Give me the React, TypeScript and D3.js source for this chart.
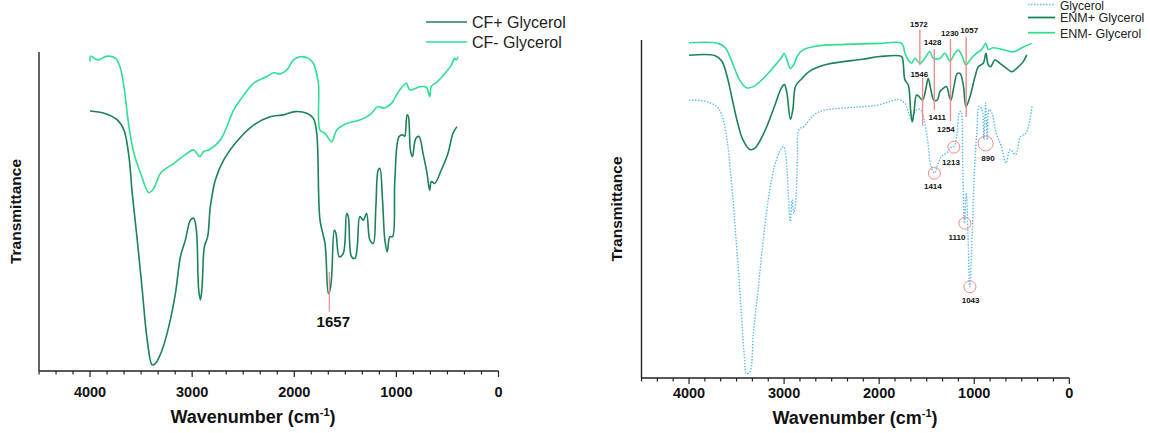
import React from "react";
import * as d3 from "d3";

// ---------- DATA (wavenumber cm-1, transmittance a.u.) ----------
const cfPlusGlycerol: [number, number][] = [
  [4000, 81.5], [3863, 80.8], [3733, 78.7], [3668, 75.5], [3619, 67.2], [3587, 55.7],
  [3538, 41.1], [3489, 25.4], [3440, 9.7], [3391, 1.9], [3359, 2.4], [3294, 6.6],
  [3229, 13.9], [3164, 24.3], [3115, 35.8], [3066, 41.1], [3017, 47.3], [2985, 47.9],
  [2959, 44.2], [2936, 25.4], [2919, 22.3], [2903, 26.4], [2880, 39.0], [2848, 42.1],
  [2822, 51.5], [2773, 59.9], [2692, 66.1], [2578, 71.4], [2399, 77.1], [2236, 79.7],
  [2106, 80.3], [1992, 81.3], [1878, 80.8], [1813, 79.2], [1780, 74.5], [1748, 47.3],
  [1699, 40.0], [1666, 24.3], [1650, 25.4], [1634, 29.6], [1608, 44.2], [1592, 43.1],
  [1559, 35.8], [1520, 36.9], [1487, 49.4], [1471, 48.4], [1439, 35.8], [1406, 35.3],
  [1383, 39.0], [1357, 48.4], [1325, 47.3], [1292, 49.4], [1260, 41.1], [1227, 40.0],
  [1201, 51.5], [1178, 63.0], [1162, 63.5], [1136, 53.6], [1113, 41.1], [1090, 37.4],
  [1064, 42.1], [1038, 42.1], [1015, 59.9], [973, 73.5], [934, 74.0], [918, 73.5],
  [895, 80.3], [882, 79.7], [863, 69.3], [843, 67.2], [810, 72.9], [778, 73.5],
  [739, 68.2], [700, 62.0], [674, 56.7], [657, 59.4], [625, 58.8], [560, 63.0],
  [495, 68.2], [446, 74.5], [407, 76.6],
];

const cfMinusGlycerol: [number, number][] = [
  [4000, 97.0], [3995, 98.7], [3928, 97.5], [3831, 98.7], [3750, 98.0], [3707, 95.4],
  [3668, 89.1], [3619, 76.6], [3570, 68.2], [3505, 62.0], [3424, 55.9], [3375, 57.3],
  [3310, 62.0], [3180, 65.1], [3050, 68.2], [2985, 69.3], [2926, 67.2], [2887, 68.8],
  [2838, 69.3], [2724, 72.4], [2594, 81.8], [2529, 85.0], [2399, 90.2], [2268, 92.3],
  [2203, 93.5], [2138, 93.1], [2073, 94.4], [2008, 97.5], [1943, 98.5], [1862, 98.0],
  [1813, 96.4], [1764, 90.2], [1748, 75.5], [1699, 74.5], [1634, 71.9], [1585, 75.5],
  [1487, 77.6], [1357, 78.7], [1260, 80.3], [1178, 82.9], [1129, 82.4], [1048, 83.9],
  [999, 86.5], [967, 88.1], [902, 90.2], [869, 88.1], [771, 89.1], [706, 88.9],
  [674, 86.0], [657, 89.3], [609, 90.4], [511, 93.8], [462, 95.9], [430, 98.0],
  [413, 97.5], [397, 98.5],
];

const glycerol: [number, number][] = [
  [4000, 82.2], [3841, 81.9], [3711, 80.4], [3656, 77.9], [3600, 70.5], [3563, 60.6],
  [3526, 48.8], [3489, 34.9], [3452, 20.1], [3415, 5.2], [3397, 1.3], [3360, 1.8],
  [3323, 13.2], [3267, 28.0], [3212, 42.8], [3156, 54.7], [3101, 62.6], [3045, 67.1],
  [3008, 68.5], [2982, 65.6], [2953, 52.7], [2934, 46.3], [2916, 52.7], [2897, 48.8],
  [2879, 51.7], [2860, 64.6], [2842, 73.5], [2786, 74.5], [2731, 76.5], [2657, 78.4],
  [2546, 79.4], [2361, 79.9], [2213, 80.2], [2102, 80.4], [1991, 80.9], [1880, 81.9],
  [1806, 82.4], [1732, 81.4], [1695, 78.9], [1665, 76.5], [1639, 77.9], [1602, 79.4],
  [1565, 79.4], [1528, 76.5], [1491, 70.5], [1454, 62.6], [1417, 60.6], [1391, 62.6],
  [1343, 65.6], [1288, 66.6], [1251, 68.1], [1214, 68.5], [1184, 71.5], [1158, 78.4],
  [1140, 78.9], [1121, 62.6], [1103, 45.8], [1084, 54.7], [1066, 42.8], [1047, 27.0],
  [1021, 42.8], [999, 60.6], [973, 72.5], [947, 80.4], [918, 79.4], [899, 70.5],
  [881, 81.4], [862, 70.5], [844, 79.4], [814, 78.4], [770, 72.5], [714, 68.5],
  [666, 63.6], [622, 67.6], [566, 66.1], [511, 71.5], [455, 72.5], [392, 80.4],
];

const enmPlusGlycerol: [number, number][] = [
  [4000, 95.5], [3730, 95.4], [3656, 93.8], [3600, 89.3], [3545, 82.4], [3489, 75.5],
  [3434, 70.5], [3360, 67.6], [3304, 68.1], [3212, 72.5], [3101, 80.4], [3027, 85.9],
  [2997, 86.8], [2971, 84.4], [2934, 76.5], [2908, 79.4], [2879, 86.4], [2823, 88.3],
  [2731, 90.8], [2546, 92.8], [2176, 94.3], [1993, 95.1], [1764, 95.1], [1747, 93.1],
  [1729, 88.2], [1694, 86.7], [1669, 79.3], [1652, 75.8], [1635, 78.3], [1606, 83.7],
  [1578, 83.2], [1543, 82.2], [1508, 85.7], [1484, 88.7], [1459, 85.7], [1424, 82.2],
  [1389, 82.2], [1361, 84.7], [1326, 85.7], [1291, 86.2], [1262, 83.2], [1245, 82.2],
  [1214, 86.2], [1178, 90.1], [1150, 90.1], [1115, 86.7], [1087, 80.3], [1045, 83.2],
  [992, 89.1], [957, 92.1], [905, 93.1], [877, 96.1], [852, 92.6], [827, 92.1],
  [782, 94.1], [729, 93.1], [659, 91.6], [606, 90.6], [554, 91.6], [484, 93.6],
  [448, 95.6],
];

const enmMinusGlycerol: [number, number][] = [
  [4000, 99.2], [3693, 99.0], [3619, 97.7], [3545, 93.3], [3471, 88.3], [3397, 85.9],
  [3323, 86.2], [3212, 88.8], [3101, 92.3], [3027, 94.8], [3001, 96.0], [2971, 94.3],
  [2934, 91.6], [2897, 92.8], [2860, 95.3], [2805, 97.0], [2657, 98.2], [2361, 98.7],
  [1993, 99.0], [1764, 99.0], [1729, 96.1], [1694, 94.1], [1659, 93.1], [1624, 94.6],
  [1571, 93.1], [1519, 94.6], [1466, 96.6], [1431, 94.6], [1361, 94.6], [1308, 96.1],
  [1256, 93.8], [1203, 96.1], [1168, 97.0], [1133, 95.6], [1087, 92.6], [1045, 94.1],
  [975, 96.1], [922, 97.2], [877, 99.0], [852, 97.2], [800, 97.7], [659, 96.9],
  [589, 96.5], [484, 97.9], [396, 99.0],
];

const xTickLabels = [4000, 3000, 2000, 1000, 0];
const minorTickStep = 1000 / 6;

// annotation data: [wavenumber, transmittance top, transmittance bottom]
const cfPeakLine: [number, number, number] = [1657, 31, 18.6];
const cfPeakLabel = "1657";

const enmPeakLines: [number, number, number][] = [
  [1572, 103, 92.6], [1543, 88.8, 74.6], [1420, 97.3, 79.3], [1250, 100.3, 76.0], [1085, 100.9, 77.2],
];
const enmPeakLabels: [string, number, number][] = [
  ["1572", 1582, 103.8], ["1428", 1438, 98.5], ["1230", 1256, 101.2], ["1057", 1053, 102.1],
  ["1546", 1578, 89.1], ["1411", 1389, 76.3], ["1254", 1298, 72.8],
];
const glyCircles: [number, number, number][] = [
  [1419, 60.6, 6], [1214, 68.3, 6], [880, 69.4, 7.5], [1098, 45.8, 6], [1045, 27.0, 6],
];
const glyLabels: [string, number, number][] = [
  ["1414", 1435, 55.9], ["1213", 1245, 63.0], ["890", 856, 64.2], ["1110", 1182, 40.8], ["1043", 1038, 22.2],
];

const DARK = "#1d8258";
const LIGHT = "#2fdf92";
const BLUE = "#54b9f2";
const RED = "#f28b8b";
const FONT = "Arial, 'Liberation Sans', Helvetica, sans-serif";

type Panel = {
  x: d3.ScaleLinear<number, number>;
  y: d3.ScaleLinear<number, number>;
};

const lineGen = (p: Panel) =>
  d3.line<[number, number]>()
    .x((d) => p.x(d[0]))
    .y((d) => p.y(d[1]))
    .curve(d3.curveCatmullRom.alpha(0.5));

function Axes({ p, labelX, tickBaseline, xLabelBaseline, yLabelX }: { p: Panel; labelX: number; tickBaseline: number; xLabelBaseline: number; yLabelX: number }) {
  const [x0, x1] = p.x.range();
  const [yb, yt] = p.y.range();
  const minors: number[] = [];
  for (let k = 0; k <= 27; k++) minors.push(4500 - k * minorTickStep);
  return (
    <g>
      <line x1={x0} x2={x0} y1={yt} y2={yb} stroke="#222" strokeWidth={1.4} />
      <line x1={x0} x2={x1} y1={yb} y2={yb} stroke="#222" strokeWidth={1.4} />
      {minors.map((t, i) => {
        const r = Math.abs(t % 1000);
        const major = r < 1e-6 || Math.abs(r - 1000) < 1e-6;
        return (
          <line key={i} x1={p.x(t)} x2={p.x(t)} y1={yb} y2={yb + (major ? 6 : 3.5)} stroke="#222" strokeWidth={1.2} />
        );
      })}
      {xTickLabels.map((t) => (
        <text key={t} x={p.x(t)} y={tickBaseline} textAnchor="middle" fontFamily={FONT} fontWeight="bold" fontSize={14.5} fill="#111">
          {t}
        </text>
      ))}
      <text x={labelX} y={xLabelBaseline} textAnchor="middle" fontFamily={FONT} fontWeight="bold" fontSize={18} fill="#111">
        Wavenumber (cm<tspan dy={-7} fontSize={11}>-1</tspan><tspan dy={7}>)</tspan>
      </text>
      <text transform={`translate(${yLabelX},${(yt + yb) / 2}) rotate(-90)`} textAnchor="middle" fontFamily={FONT} fontWeight="bold" fontSize={15.5} fill="#111">
        Transmittance
      </text>
    </g>
  );
}

export default function App() {
  const left: Panel = {
    x: d3.scaleLinear().domain([4500, 0]).range([39, 498.5]),
    y: d3.scaleLinear().domain([0, 100]).range([371, 52]),
  };
  const right: Panel = {
    x: d3.scaleLinear().domain([4500, 0]).range([641.5, 1069.3]),
    y: d3.scaleLinear().domain([0, 100]).range([378, 40]),
  };
  const lL = lineGen(left);
  const lR = lineGen(right);

  return (
    <svg width={1150} height={433} style={{ position: "absolute", left: 0, top: 0, background: "#fff" }}>
      <rect width={1150} height={433} fill="#fff" />
      {/* LEFT PANEL */}
      <Axes p={left} labelX={253} tickBaseline={397} xLabelBaseline={423} yLabelX={21} />
      <path d={lL(cfMinusGlycerol) || ""} fill="none" stroke={LIGHT} strokeWidth={1.6} />
      <path d={lL(cfPlusGlycerol) || ""} fill="none" stroke={DARK} strokeWidth={1.6} />
      <line x1={left.x(cfPeakLine[0])} x2={left.x(cfPeakLine[0])} y1={left.y(cfPeakLine[1])} y2={left.y(cfPeakLine[2])} stroke={RED} strokeWidth={1.2} />
      <text x={left.x(cfPeakLine[0]) + 4} y={left.y(cfPeakLine[2]) + 15} textAnchor="middle" fontFamily={FONT} fontWeight="bold" fontSize={15} fill="#111">
        {cfPeakLabel}
      </text>
      {/* left legend */}
      <line x1={426} x2={467} y1={22} y2={22} stroke={DARK} strokeWidth={1.6} />
      <text x={472} y={27.5} fontFamily={FONT} fontSize={16} fill="#222">CF+ Glycerol</text>
      <line x1={426} x2={467} y1={42} y2={42} stroke={LIGHT} strokeWidth={1.6} />
      <text x={472} y={47.5} fontFamily={FONT} fontSize={16} fill="#222">CF- Glycerol</text>

      {/* RIGHT PANEL */}
      <Axes p={right} labelX={855} tickBaseline={398} xLabelBaseline={424} yLabelX={622} />
      <path d={lR(glycerol) || ""} fill="none" stroke={BLUE} strokeWidth={1.4} strokeDasharray="1.4 1.6" />
      <path d={lR(enmPlusGlycerol) || ""} fill="none" stroke={DARK} strokeWidth={1.6} />
      <path d={lR(enmMinusGlycerol) || ""} fill="none" stroke={LIGHT} strokeWidth={1.6} />
      {enmPeakLines.map(([w, a, b], i) => (
        <line key={i} x1={right.x(w)} x2={right.x(w)} y1={right.y(a)} y2={right.y(b)} stroke={RED} strokeWidth={1.4} />
      ))}
      {enmPeakLabels.map(([s, w, v], i) => (
        <text key={i} x={right.x(w)} y={right.y(v)} textAnchor="middle" fontFamily={FONT} fontWeight="bold" fontSize={8} fill="#111">
          {s}
        </text>
      ))}
      {glyCircles.map(([w, v, r], i) => (
        <circle key={i} cx={right.x(w)} cy={right.y(v)} r={r} fill="none" stroke={RED} strokeWidth={1} />
      ))}
      {glyLabels.map(([s, w, v], i) => (
        <text key={i} x={right.x(w)} y={right.y(v)} textAnchor="middle" fontFamily={FONT} fontWeight="bold" fontSize={8} fill="#111">
          {s}
        </text>
      ))}
      {/* right legend */}
      <line x1={1028} x2={1055} y1={4.5} y2={4.5} stroke={BLUE} strokeWidth={1.4} strokeDasharray="1.4 1.6" />
      <text x={1060} y={9.5} fontFamily={FONT} fontSize={12} fill="#222">Glycerol</text>
      <line x1={1028} x2={1055} y1={17.5} y2={17.5} stroke={DARK} strokeWidth={1.8} />
      <text x={1060} y={22} fontFamily={FONT} fontSize={12.5} fill="#222">ENM+ Glycerol</text>
      <line x1={1028} x2={1055} y1={32.7} y2={32.7} stroke={LIGHT} strokeWidth={1.8} />
      <text x={1060} y={37.5} fontFamily={FONT} fontSize={12.5} fill="#222">ENM- Glycerol</text>
    </svg>
  );
}
